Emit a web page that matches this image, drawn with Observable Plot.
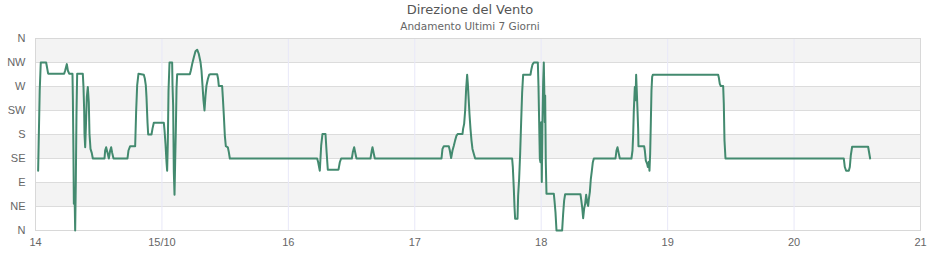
<!DOCTYPE html>
<html><head><meta charset="utf-8">
<script src="https://cdn.jsdelivr.net/npm/d3@7"></script>
<script src="https://cdn.jsdelivr.net/npm/@observablehq/plot@0.6"></script>
<style>
body{margin:0;background:#fff;width:940px;height:260px;overflow:hidden;font-family:"DejaVu Sans",sans-serif}
#t{height:20px;line-height:20px;text-align:center;font-size:13px;color:#555}
#s{height:12px;line-height:12px;text-align:center;font-size:10.5px;color:#666}
#c svg{display:block}
</style></head><body>
<div id="t">Direzione del Vento</div>
<div id="s">Andamento Ultimi 7 Giorni</div>
<div id="c"></div>
<script>
// Ore trascorse dal 14/10 00:00 (UTC) e direzione del vento in gradi
const ore = [
  0.5,0.6,0.8,1.0,2.02,2.15,2.4,5.44,5.63,5.95,6.14,6.39,7.02,7.1,7.2,7.28,7.4,7.53,7.66,7.78,7.91,8.98,9.11,9.24,9.3,9.43,9.55,9.74,9.93,10.12,10.25,10.44,10.69,10.88,13.1,13.22,13.41,13.67,13.92,14.17,14.36,14.55,14.81,17.46,17.65,17.97,18.92,19.11,19.3,19.55,
  20.56,20.75,20.94,21.07,21.26,21.39,22.02,22.21,22.46,24.36,24.49,24.68,24.87,24.99,25.12,25.25,25.44,25.94,26.01,26.13,26.26,26.39,26.51,26.64,26.77,26.89,29.3,29.49,29.74,30.06,30.37,30.69,31.0,31.32,31.51,31.7,31.89,32.08,32.27,32.46,32.72,32.97,33.22,34.49,34.67,34.8,35.43,35.56,35.75,35.94,36.13,36.51,36.7,36.89,
  53.47,53.66,53.97,54.23,54.48,55.05,55.24,55.49,57.52,57.77,58.02,60.05,60.24,60.49,60.74,60.93,63.59,63.84,63.97,64.22,64.41,
  77.07,77.26,77.51,78.46,78.65,78.9,79.16,79.41,79.66,79.92,80.17,81.06,81.18,81.37,81.56,81.75,81.94,82.07,82.19,82.38,82.57,82.76,82.95,83.2,83.46,90.48,90.61,90.8,90.93,91.05,91.5,91.62,91.81,92.0,92.19,92.38,92.57,93.96,94.15,94.34,94.6,95.36,
  95.48,95.61,95.74,95.86,95.99,96.11,96.24,96.37,96.49,96.56,96.68,96.75,96.87,97.0,98.39,98.52,98.71,98.9,99.97,100.16,100.35,100.54,103.45,103.58,103.77,103.96,104.15,104.34,104.53,104.72,104.91,105.04,105.23,105.42,105.61,105.8,105.99,110.1,110.29,110.48,110.67,110.92,
  113.13,113.33,113.45,113.58,113.77,113.9,114.02,114.15,114.28,114.4,114.46,115.54,115.67,115.86,116.11,116.24,116.43,116.55,116.68,116.81,116.93,117.06,117.19,
  129.59,129.71,129.9,130.09,130.54,130.66,130.79,130.98,153.44,153.63,153.88,154.39,154.58,154.77,155.02,158.06,158.18,158.44
];
const gradi = [
  112,162,262,315,315,308,294,294,300,312,300,294,294,244,147,50,80,0,97,219,294,294,269,225,181,156,190,250,269,240,181,153,145,135,135,150,156,146,135,150,156,146,135,135,150,158,158,225,272,294,
  292,285,272,250,203,180,180,191,202,202,188,162,128,112,166,262,315,315,272,234,109,67,128,188,266,293,293,300,312,325,336,339,331,316,300,272,244,225,253,272,284,292,293,293,284,271,271,250,216,178,158,156,147,135,
  135,128,112,159,181,181,150,114,114,128,135,135,147,156,144,135,135,150,156,144,135,
  135,153,158,158,150,136,150,159,169,178,181,181,191,200,225,266,292,275,253,219,191,169,153,144,135,135,119,78,44,22,22,66,97,144,203,259,292,292,303,311,315,315,
  272,203,134,128,203,91,203,278,315,278,203,253,128,69,69,56,34,0,0,31,56,68,68,59,44,23,41,50,67,53,46,59,72,97,112,128,135,135,150,156,147,135,
  135,150,178,225,269,244,292,259,225,191,158,158,150,131,125,119,129,112,144,203,262,288,292,
  292,287,275,271,271,238,169,135,135,119,112,112,119,141,157,157,150,135
];

const giorni = [14,15,16,17,18,19,20,21];
const etichetteGiorni = ["14","15/10","16","17","18","19","20","21"];
const direzioniGradi = [0,45,90,135,180,225,270,315,360];
const direzioniEtichette = ["N","NE","E","SE","S","SW","W","NW","N"];
const bandeGrigie = [45,135,225,315];

const data = (g) => new Date(Date.UTC(2024, 9, g));
const inizio = data(14), fine = data(21);
const serie = ore.map((h, i) => ({t: new Date(inizio.getTime() + h * 3600e3), v: gradi[i]}));
const tickDate = giorni.map(data);
const grigliaX = tickDate.slice(1, -1);

const chart = Plot.plot({
  width: 940,
  height: 228,
  marginTop: 6,
  marginBottom: 30,
  marginLeft: 35,
  marginRight: 20,
  style: {fontFamily: "'Liberation Sans', Arial, sans-serif", fontSize: "11px", color: "#666", background: "#fff"},
  x: {type: "utc", domain: [inizio, fine]},
  y: {domain: [0, 360]},
  marks: [
    Plot.rect(bandeGrigie, {x1: () => inizio, x2: () => fine, y1: d => d, y2: d => d + 45, fill: "#f3f3f3"}),
    Plot.ruleY(direzioniGradi, {stroke: "#dcdcdc", strokeWidth: 1}),
    Plot.ruleX(grigliaX, {stroke: "#e8e8f8", strokeWidth: 1}),
    Plot.frame({stroke: "#d8d8d8"}),
    Plot.line(serie, {x: "t", y: "v", stroke: "#438a6f", strokeWidth: 2, curve: "linear"}),
    Plot.axisY(direzioniGradi, {tickSize: 0, tickPadding: 10, tickFormat: (d, i) => direzioniEtichette[i], label: null}),
    Plot.axisX(tickDate, {tickSize: 0, tickPadding: 8, tickFormat: (d, i) => etichetteGiorni[i], label: null})
  ]
});
document.getElementById("c").appendChild(chart);
</script>
</body></html>
